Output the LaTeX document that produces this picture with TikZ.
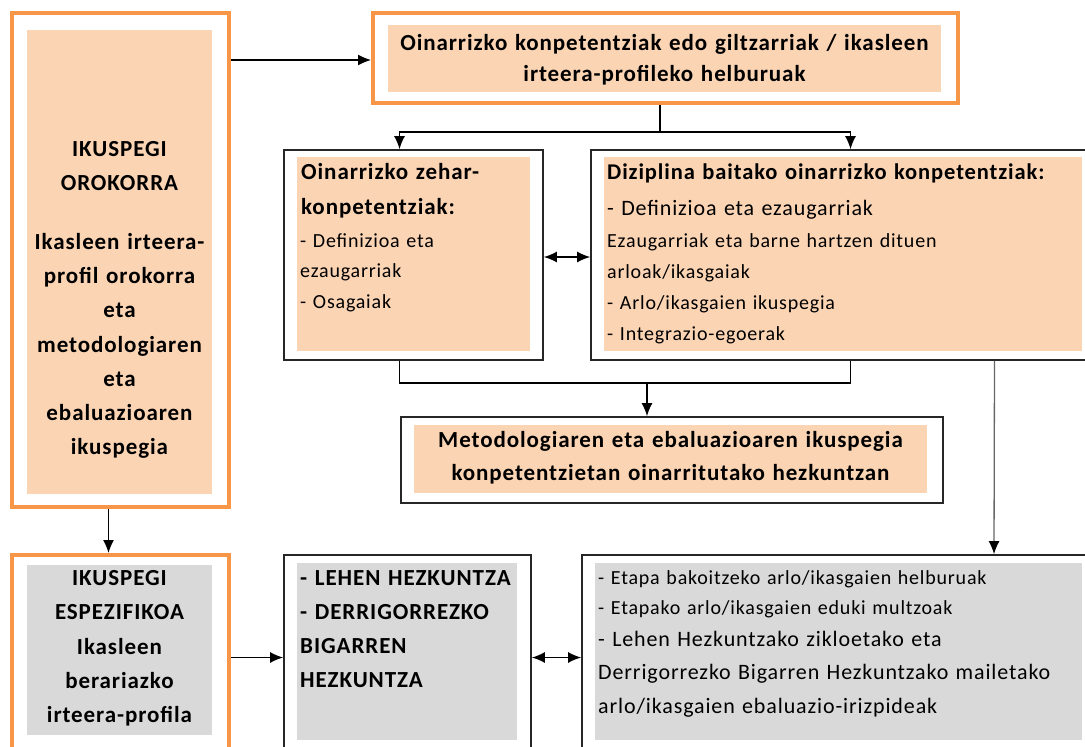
\documentclass[tikz,border=0pt]{standalone}
\usepackage{fontspec}
\setmainfont{Carlito}[LetterSpace=4]
\usetikzlibrary{positioning,arrows.meta}
\definecolor{euorange}{HTML}{F79646}
\definecolor{eupeach}{HTML}{FBD4B4}
\definecolor{eugray}{HTML}{D9D9D9}

\begin{document}
\begin{tikzpicture}[x=1pt, y=-1pt,
    frameO/.style={draw=euorange, line width=4pt, inner sep=0pt},
    frameK/.style={draw=black!85, line width=1.8pt, inner sep=0pt},
    fillP/.style={fill=eupeach, inner sep=0pt},
    fillG/.style={fill=eugray, inner sep=0pt},
    txt/.style={inner sep=0pt, anchor=base west, align=left},
    ctxt/.style={inner sep=0pt, anchor=base, align=center},
    arr/.style={-{Latex[length=13pt,width=11pt,color=black]}, line width=1.3pt},
    darr/.style={{Latex[length=13pt,width=11pt]}-{Latex[length=13pt,width=11pt]}, line width=1.3pt}]
    \useasboundingbox (0,0) rectangle (1085,747);
    \clip (0,0) rectangle (1085,747);
    % frames
    \node[frameO, minimum width=217pt, minimum height=494pt] (gen) at (120.5,260) {};
    \node[fillP, minimum width=185pt, minimum height=464pt] (gen-in) at (119.5,262) {};
    \node[frameO, minimum width=585pt, minimum height=90pt] (top) at (665.5,58) {};
    \node[fillP, minimum width=553pt, minimum height=67pt] (top-in) at (664.5,58.5) {};
    \node[frameK, minimum width=259pt, minimum height=210pt] (zeh) at (413.5,255) {};
    \node[fillP, minimum width=233pt, minimum height=194pt] (zeh-in) at (413.5,254) {};
    \node[frameK, minimum width=509pt, minimum height=210pt] (diz) at (845.5,255) {};
    \node[fillP, minimum width=478pt, minimum height=194pt] (diz-in) at (843,254) {};
    \node[frameK, minimum width=542pt, minimum height=86pt] (met) at (672,460) {};
    \node[fillP, minimum width=513pt, minimum height=68pt] (met-in) at (670.5,459) {};
    \node[frameO, minimum width=217pt, minimum height=205pt] (spe) at (120.5,657.5) {};
    \node[fillG, minimum width=185pt, minimum height=170pt] (spe-in) at (119.5,650) {};
    \node[frameK, minimum width=247pt, minimum height=205pt] (lev) at (407.5,657.5) {};
    \node[fillG, minimum width=220pt, minimum height=177pt] (lev-in) at (407,651.5) {};
    \node[frameK, minimum width=518pt, minimum height=205pt] (cri) at (841,657.5) {};
    \node[fillG, minimum width=487pt, minimum height=177pt] (cri-in) at (838.5,651.5) {};
    % texts
    \node[ctxt, text width=185pt, font={\fontsize{23}{34.3}\selectfont\bfseries}] (gen-t) at (119.5,156.5)
      {IKUSPEGI\\OROKORRA\\[24pt]Ikasleen irteera-\\profil orokorra\\eta\\metodologiaren\\eta\\ebaluazioaren\\ikuspegia};
    \node[ctxt, text width=553pt, font={\fontsize{23}{31}\selectfont\bfseries}] (top-t) at (664.5,50)
      {Oinarrizko konpetentziak edo giltzarriak / ikasleen\\irteera-profileko helburuak};
    \node[txt, text width=225pt, font={\fontsize{23}{35}\selectfont\bfseries}] (zeh-h) at (301,179)
      {Oinarrizko zehar-\\konpetentziak:};
    \node[txt, text width=225pt, font={\fontsize{20}{30.5}\selectfont}] (zeh-b) at (300,247)
      {- Definizioa eta\\ezaugarriak\\- Osagaiak};
    \node[txt, text width=470pt, font={\fontsize{22.5}{35}\selectfont\bfseries}] (diz-h) at (607,179)
      {Diziplina baitako oinarrizko konpetentziak:};
    \node[txt, text width=470pt, font={\fontsize{22}{33}\selectfont}] (diz-b) at (607,215)
      {- Definizioa eta ezaugarriak};
    \node[txt, text width=470pt, font={\fontsize{20}{31}\selectfont}] (diz-c) at (607,247)
      {Ezaugarriak eta barne hartzen dituen\\arloak/ikasgaiak\\- Arlo/ikasgaien ikuspegia\\- Integrazio-egoerak};
    \node[ctxt, text width=513pt, font={\fontsize{23}{33}\selectfont\bfseries}] (met-t) at (670.5,447)
      {Metodologiaren eta ebaluazioaren ikuspegia\\konpetentzietan oinarritutako hezkuntzan};
    \node[ctxt, text width=185pt, font={\fontsize{23}{34.3}\selectfont\bfseries}] (spe-t) at (119.5,585.5)
      {IKUSPEGI\\ESPEZIFIKOA\\Ikasleen\\berariazko\\irteera-profila};
    \node[txt, text width=215pt, font={\fontsize{23}{34.3}\selectfont\bfseries}] (lev-t) at (300,585)
      {- LEHEN HEZKUNTZA\\- DERRIGORREZKO\\BIGARREN\\HEZKUNTZA};
    \node[txt, text width=480pt, font={\fontsize{20}{30}\selectfont}] (cri-a) at (598,584)
      {- Etapa bakoitzeko arlo/ikasgaien helburuak\\- Etapako arlo/ikasgaien eduki multzoak};
    \node[txt, text width=480pt, font={\fontsize{22}{33.5}\selectfont}] (cri-b) at (598,646)
      {- Lehen Hezkuntzako zikloetako eta\\Derrigorrezko Bigarren Hezkuntzako mailetako\\arlo/ikasgaien ebaluazio-irizpideak};
    % connectors
    \coordinate (split) at (660,132);
    \coordinate (join) at (647,383);
    \draw[arr] (gen.east |- 0,60) -- (top.west |- 0,60);
    \draw[line width=1.3pt] (top.south -| split) -- (split);
    \draw[arr] (split) -| ([xshift=-14pt]zeh.north);
    \draw[arr] (split) -| ([xshift=5pt]diz.north);
    \draw[darr] (zeh.east |- 0,257) -- (diz.west |- 0,257);
    \draw[line width=1.3pt] ([xshift=-14pt]zeh.south) |- (join) -| ([xshift=5pt]diz.south);
    \draw[arr] (join) -- (join |- met.north);
    \draw[arr, draw=black!60] ([xshift=149pt]diz.south) -- ([xshift=153pt]cri.north);
    \draw[arr] ([xshift=-12pt]gen.south) -- ([xshift=-12pt]spe.north);
    \draw[arr] (spe.east) -- (spe.east -| lev.west);
    \draw[darr] (lev.east) -- (lev.east -| cri.west);
\end{tikzpicture}
\end{document}
